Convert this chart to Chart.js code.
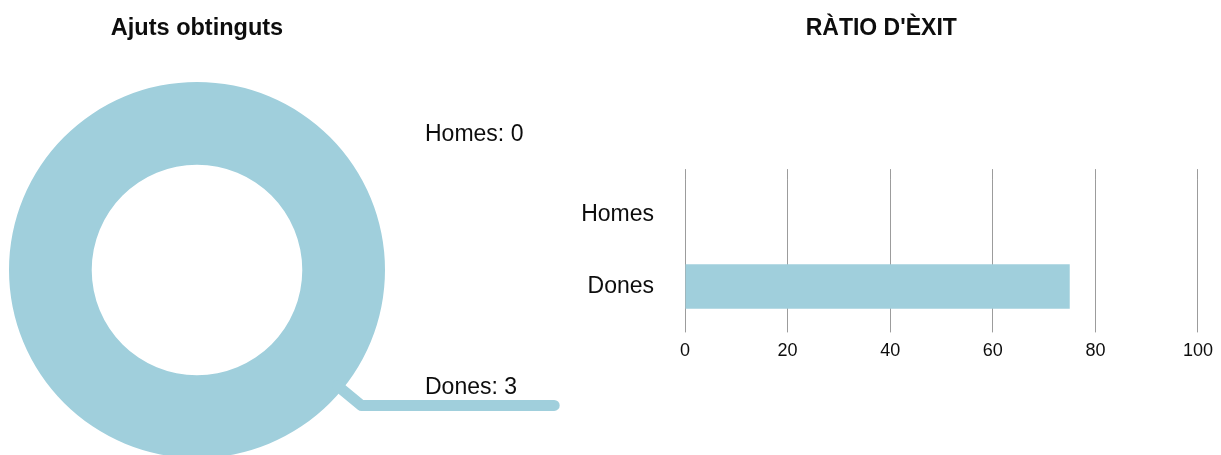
<!DOCTYPE html>
<html>
<head>
<meta charset="utf-8">
<script src="https://cdn.jsdelivr.net/npm/chart.js@4/dist/chart.umd.min.js"></script>
<style>
    html, body { margin: 0; padding: 0; background: #fff; overflow: hidden; }
    body { width: 1221px; height: 455px; position: relative; }
    #ajutsWrap { position: absolute; left: 0; top: 0; width: 600px; height: 460px; }
    #ratioWrap { position: absolute; left: 560px; top: 0; width: 661px; height: 455px; }
</style>
</head>
<body>
<div id="ajutsWrap"><canvas id="ajutsChart"></canvas></div>
<div id="ratioWrap"><canvas id="ratioChart"></canvas></div>
<script>
// ==========================================
// Data
// ==========================================
const CATEGORIES = ['Homes', 'Dones'];
const AJUTS_VALUES = [0, 3];          // ajuts obtinguts
const RATIO_VALUES = [0, 75];         // ràtio d'èxit (%)
const RATIO_TICKS = { min: 0, max: 100, step: 20 };

const BLUE = '#a0cfdc';
const TEXT = '#0d0d0d';
const GRID = '#9c9c9c';
const FONT = "'Liberation Sans', Arial, Helvetica, sans-serif";

Chart.defaults.font.family = FONT;
Chart.defaults.color = TEXT;
Chart.defaults.animation = false;

// ==========================================
// Doughnut - Ajuts obtinguts
// ==========================================

// Plugin: labels on the right side + leader line for Dones
const sideLabelsPlugin = {
    id: 'sideLabels',
    afterDraw: function(chart) {
        const meta = chart.getDatasetMeta(0);
        const arc = meta.data[1];
        if (!arc) return;
        const cx = arc.x, cy = arc.y, R = arc.outerRadius;
        const ctx = chart.ctx;
        const ang = 39.5 * Math.PI / 180;

        // leader line
        const sx = cx + (R - 6) * Math.cos(ang), sy = cy + (R - 6) * Math.sin(ang);
        const ex = cx + (R + 25) * Math.cos(ang), ey = cy + (R + 25) * Math.sin(ang);
        ctx.save();
        ctx.strokeStyle = BLUE;
        ctx.lineWidth = 11;
        ctx.lineCap = 'round';
        ctx.lineJoin = 'round';
        ctx.beginPath();
        ctx.moveTo(sx, sy);
        ctx.lineTo(ex, ey);
        ctx.lineTo(cx + R * 1.9, ey);
        ctx.stroke();

        // labels
        const labelX = cx + R + 40;
        ctx.fillStyle = TEXT;
        ctx.font = `23px ${FONT}`;
        ctx.textAlign = 'left';
        ctx.textBaseline = 'middle';
        ctx.fillText(`${CATEGORIES[0]}: ${AJUTS_VALUES[0]}`, labelX, cy - R * 0.72);
        ctx.textBaseline = 'alphabetic';
        ctx.fillText(`${CATEGORIES[1]}: ${AJUTS_VALUES[1]}`, labelX, ey - 11);
        ctx.restore();
    }
};

new Chart(document.getElementById('ajutsChart'), {
    type: 'doughnut',
    data: {
        labels: CATEGORIES,
        datasets: [{
            data: AJUTS_VALUES,
            backgroundColor: [BLUE, BLUE],
            borderWidth: 0,
            hoverOffset: 0,
            offset: 0
        }]
    },
    options: {
        responsive: true,
        maintainAspectRatio: false,
        cutout: '56%',
        layout: { padding: { left: 9, right: 215, top: 0, bottom: 2 } },
        plugins: {
            legend: { display: false },
            tooltip: { enabled: false },
            title: {
                display: true,
                text: 'Ajuts obtinguts',
                fullSize: false,
                color: TEXT,
                font: { size: 23.5, weight: 'bold' },
                padding: { top: 14.5, bottom: 39.3 }
            }
        }
    },
    plugins: [sideLabelsPlugin]
});

// ==========================================
// Horizontal bar - Ràtio d'èxit
// ==========================================
new Chart(document.getElementById('ratioChart'), {
    type: 'bar',
    data: {
        labels: CATEGORIES,
        datasets: [{
            data: RATIO_VALUES,
            backgroundColor: BLUE,
            borderWidth: 0,
            barPercentage: 0.62,
            categoryPercentage: 1
        }]
    },
    options: {
        indexAxis: 'y',
        responsive: true,
        maintainAspectRatio: false,
        layout: { padding: { left: 0, right: 18.5, top: 0, bottom: 85 } },
        scales: {
            x: {
                min: RATIO_TICKS.min,
                max: RATIO_TICKS.max,
                ticks: { stepSize: RATIO_TICKS.step, padding: 8, color: TEXT, font: { size: 18 } },
                grid: { color: GRID, lineWidth: 1, tickLength: 10 },
                border: { display: false }
            },
            x2: {
                type: 'linear',
                position: 'top',
                min: RATIO_TICKS.min,
                max: RATIO_TICKS.max,
                ticks: { stepSize: RATIO_TICKS.step, display: false },
                grid: { color: GRID, lineWidth: 1, drawOnChartArea: false, drawTicks: true, tickLength: 10 },
                border: { display: false }
            },
            y: {
                grid: { display: false },
                border: { display: false },
                ticks: { padding: 23, color: TEXT, font: { size: 23 } },
                afterFit: function(axis) { axis.width = 125; }
            }
        },
        plugins: {
            legend: { display: false },
            tooltip: { enabled: false },
            title: {
                display: true,
                text: "RÀTIO D'ÈXIT",
                color: TEXT,
                font: { size: 23, weight: 'bold' },
                padding: { top: 14.5, bottom: 127 }
            }
        }
    }
});
</script>
</body>
</html>
